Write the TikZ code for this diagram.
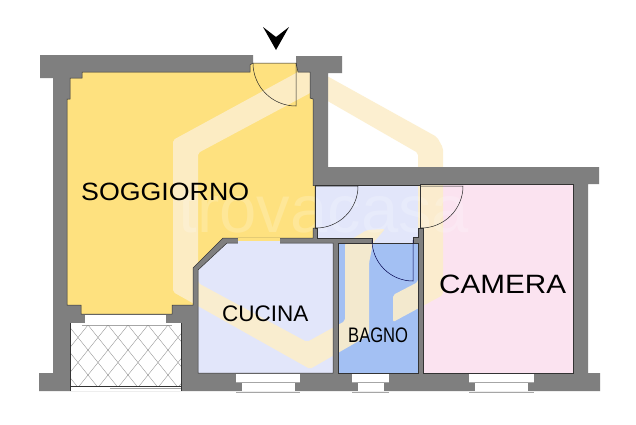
\documentclass[tikz,border=0pt]{standalone}
\usepackage{fontspec}
\setmainfont{Liberation Sans}
\usepackage{tikz}

\definecolor{wallgray}{HTML}{7F7F7F}
\definecolor{soggiornocol}{HTML}{FEE17F}
\definecolor{cucinacol}{HTML}{E2E6FA}
\definecolor{bagnocol}{HTML}{A3C0F3}
\definecolor{cameracol}{HTML}{FBE3F0}
\definecolor{logocol}{HTML}{FCEECB}

% room outlines, top-left origin as in pixels
\def\soggiornopath{(82,72) -- (250,72) -- (250,65) -- (253,63) -- (296,63) -- (298,72) -- (310,72) -- (310,98) -- (313,99) -- (313,185.5) -- (315,185.5) -- (315,228) -- (313,228) -- (313,238) -- (223,238) -- (193,268) -- (193,305) -- (172,305) -- (172,314) -- (81,314) -- (81,305) -- (67,305) -- (67,99) -- (70,99) -- (70,78) -- (82,78) -- cycle}
\def\hallpath{(315,185.5) -- (420,185.5) -- (420,228) -- (418,228) -- (418,237) -- (413,237) -- (413,243) -- (372,243) -- (372,238) -- (317,238) -- (317,228) -- (315,228) -- cycle}
\def\cucinapath{(227,243) -- (333,243) -- (333,373) -- (198,373) -- (198,270) -- cycle}
\def\bagnopath{(338,243) -- (418,243) -- (418,373) -- (338,373) -- cycle}
\def\camerapath{(420,184) -- (573,184) -- (573,373) -- (423,373) -- (423,228) -- (420,228) -- cycle}

\begin{document}
\begin{tikzpicture}[
	x=1pt, y=-1pt,
	roomline/.style={draw=black!80, line width=0.5pt},
	doorline/.style={draw=black!85, line width=0.5pt},
	bagnodoor/.style={draw=blue!30!black, line width=0.5pt},
	windowline/.style={draw=black!35, line width=0.5pt},
	hatchline/.style={draw=black!45, line width=0.35pt},
	roomlabel/.style={inner sep=0pt, anchor=base west, text=black}
	]
	\useasboundingbox (0,0) rectangle (636,424);
	\fill[white] (0,0) rectangle (636,424);

	% room fills
	\fill[soggiornocol] \soggiornopath;
	\fill[cucinacol] \hallpath;
	\fill[cucinacol] \cucinapath;
	\fill[bagnocol] \bagnopath;
	\fill[cameracol] \camerapath;

	% watermark
	\fill[logocol, opacity=0.9, rounded corners=2pt] (173,140) -- (309,66) -- (437,137) -- (443,148) -- (443,295) -- (393,322) -- (393,295) -- (418,282) -- (418,153) -- (312,92) -- (198,153) -- (198,283) -- (307,342) -- (345,321) -- (345,243) -- (367,230) -- (385,229) -- (373,243) -- (369,263) -- (369,335) -- (310,369) -- (173,292) -- cycle;
	\node (logotext) [inner sep=0pt, anchor=base, text=white, text opacity=0.2, font=\fontsize{67}{67}\selectfont] at (324,232) {trovacasa};

	% walls, rooms left as holes
	\fill[wallgray, even odd rule] (40,55) -- (253,55) -- (253,63) -- (296,63) -- (296,56) -- (342,56) -- (342,73) -- (328,73) -- (328,167) -- (599,167) -- (599,184) -- (588,184) -- (588,373) -- (600,373) -- (600,391) -- (39,391) -- (39,373) -- (53,373) -- (53,78) -- (40,78) -- cycle
		\soggiornopath \hallpath \cucinapath \bagnopath \camerapath;

	% room lines
	\draw[roomline] \soggiornopath;
	\draw[roomline] \hallpath;
	\draw[roomline] \cucinapath;
	\draw[roomline] \bagnopath;
	\draw[roomline] \camerapath;

	% door from soggiorno to cucina
	\fill[soggiornocol] (238,237.5) rectangle (280,241);
	\fill[cucinacol] (238,241) rectangle (280,244);

	% doors
	\draw[doorline] (296,63) -- (296,106) arc[start angle=90, end angle=180, radius=43];
	\draw[doorline] (316,186) -- (358,186) arc[start angle=0, end angle=90, radius=42];
	\draw[doorline] (421,186) -- (463,186) arc[start angle=0, end angle=90, radius=42];
	\draw[bagnodoor] (413,240) -- (413,281) arc[start angle=90, end angle=180, radius=41];

	% windows
	\foreach \xa/\xb/\xc/\xd in {236/242/295/300, 352/358/384/389, 469/475/528/534} {
		\fill[white] (\xa,373.5) rectangle (\xd,381.5);
		\fill[white] (\xb,381.5) rectangle (\xc,391);
		\draw[windowline] (\xa,382) -- (\xd,382);
		\draw[windowline] (\xa,392) -- (\xd,392);
	}

	% balcony
	\fill[white] (85,315) rectangle (166,323);
	\fill[white] (70.5,323) rectangle (181,391);
	\draw[windowline] (82,325) -- (172,325);
	\begin{scope}
		\clip (70.5,325) rectangle (181,386);
		\foreach \i in {-3,...,9} {
			\draw[hatchline] (\i*20+68,325) -- ++(60,75);
			\draw[hatchline] (\i*20+68,325) -- ++(-60,75);
		}
	\end{scope}
	\draw[roomline] (70.5,386) -- (181,386);
	\draw[draw=black!35, line width=0.7pt] (110,388) -- (181,388);
	\draw[roomline] (70.5,323) -- (70.5,391);
	\draw[roomline] (181,323) -- (181,391);

	% entrance arrow
	\fill[black] (263,27) -- (276,37) -- (289,27) -- (276,50) -- cycle;

	% labels
	\node (soggiorno) [roomlabel, font=\fontsize{25}{25}\selectfont] at (81,200) {\scalebox{1.07}[1]{SOGGIORNO}};
	\node (cucina) [roomlabel, font=\fontsize{22.5}{22.5}\selectfont] at (222,321) {CUCINA};
	\node (camera) [roomlabel, font=\fontsize{26.5}{26.5}\selectfont] at (439,293) {\scalebox{1.12}[1]{CAMERA}};
	\node (bagno) [roomlabel, font=\fontsize{21}{21}\selectfont] at (348,342) {\scalebox{0.79}[1]{BAGNO}};
\end{tikzpicture}
\end{document}
